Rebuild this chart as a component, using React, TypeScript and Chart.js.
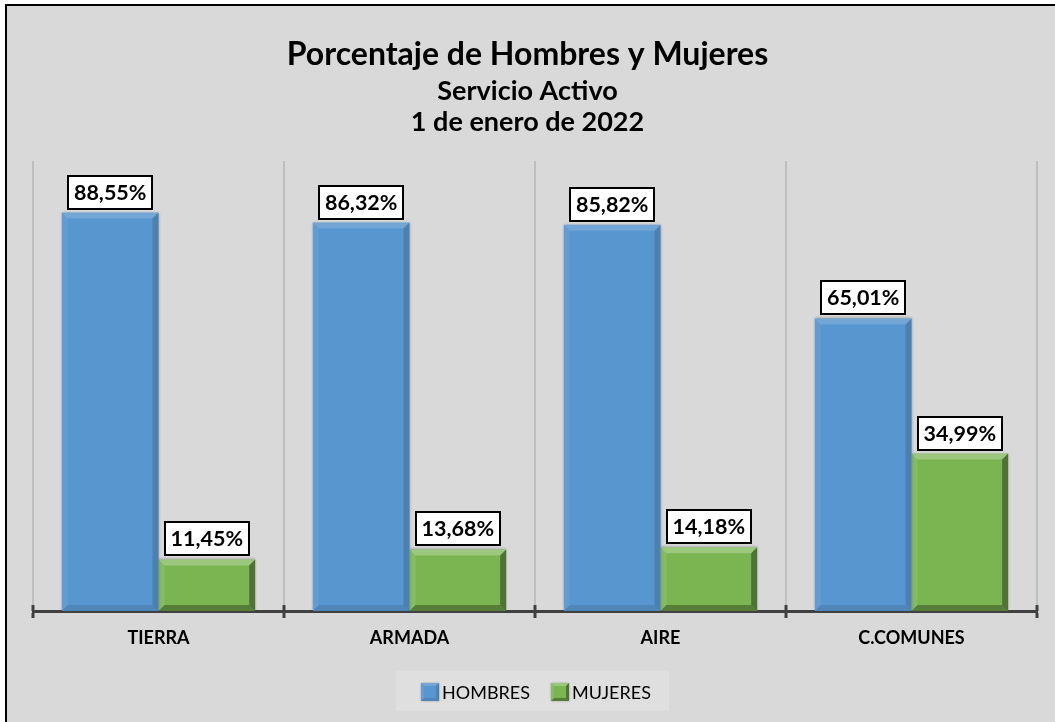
import React, { useEffect, useRef } from "react";
import { Chart, registerables } from "chart.js";

Chart.register(...registerables);

const categories = ["TIERRA", "ARMADA", "AIRE", "C.COMUNES"];
const hombres = [88.55, 86.32, 85.82, 65.01];
const mujeres = [11.45, 13.68, 14.18, 34.99];
const seriesNames = ["HOMBRES", "MUJERES"];
const titleText = "Porcentaje de Hombres y Mujeres";
const subtitleLines = ["Servicio Activo", "1 de enero de 2022"];

const BLUE = "#5896d0";
const GREEN = "#7ab552";
const COLORS = [BLUE, GREEN];
const FONT = "Lato, 'Open Sans', sans-serif";
const W = 1055;
const H = 722;

const fmt = (v: number) => v.toFixed(2).replace(".", ",") + "%";

const backgroundPlugin = {
  id: "bgFrame",
  beforeDraw(chart: any) {
    const ctx = chart.ctx;
    ctx.save();
    ctx.fillStyle = "#ffffff";
    ctx.fillRect(0, 0, chart.width, chart.height);
    ctx.fillStyle = "#d9d9d9";
    ctx.fillRect(6, 5, chart.width - 6, chart.height - 5);
    ctx.fillStyle = "#000000";
    ctx.fillRect(5, 4, 2, chart.height - 4);
    ctx.fillRect(5, 4, chart.width - 5, 2);
    ctx.restore();
  },
};

const titlePlugin = {
  id: "titles",
  afterDraw(chart: any) {
    const ctx = chart.ctx;
    const cx = chart.width / 2;
    ctx.save();
    ctx.fillStyle = "#000";
    ctx.textAlign = "center";
    ctx.textBaseline = "alphabetic";
    ctx.font = `bold 32px ${FONT}`;
    ctx.fillText(titleText, cx, 65);
    ctx.font = `bold 27px ${FONT}`;
    ctx.fillText(subtitleLines[0], cx, 100);
    ctx.fillText(subtitleLines[1], cx, 131);
    ctx.restore();
  },
};

const shadowPlugin = {
  id: "barShadow",
  beforeDatasetDraw(chart: any) {
    const ctx = chart.ctx;
    ctx.save();
    ctx.shadowColor = "rgba(0,0,0,0.35)";
    ctx.shadowBlur = 3;
    ctx.shadowOffsetX = 0;
    ctx.shadowOffsetY = 0;
  },
  afterDatasetDraw(chart: any) {
    chart.ctx.restore();
  },
};

const bevelStrength = [
  { top: 0.16, left: 0.06, right: 0.14, bottom: 0.1 },
  { top: 0.26, left: 0.1, right: 0.36, bottom: 0.3 },
];

function drawBevel(ctx: any, x0: number, y0: number, x1: number, y1: number, b: number, s: any) {
  const poly = (pts: number[][], color: string) => {
    ctx.beginPath();
    ctx.moveTo(pts[0][0], pts[0][1]);
    for (let i = 1; i < pts.length; i++) ctx.lineTo(pts[i][0], pts[i][1]);
    ctx.closePath();
    ctx.fillStyle = color;
    ctx.fill();
  };
  poly([[x0, y0], [x1, y0], [x1 - b, y0 + b], [x0 + b, y0 + b]], `rgba(255,255,255,${s.top})`);
  poly([[x0, y0], [x0 + b, y0 + b], [x0 + b, y1 - b], [x0, y1]], `rgba(255,255,255,${s.left})`);
  poly([[x1, y0], [x1, y1], [x1 - b, y1 - b], [x1 - b, y0 + b]], `rgba(0,0,0,${s.right})`);
  poly([[x0, y1], [x0 + b, y1 - b], [x1 - b, y1 - b], [x1, y1]], `rgba(0,0,0,${s.bottom})`);
}

const bevelLabelPlugin = {
  id: "bevelLabels",
  afterDatasetsDraw(chart: any) {
    const ctx = chart.ctx;
    ctx.save();
    chart.data.datasets.forEach((ds: any, di: number) => {
      const meta = chart.getDatasetMeta(di);
      meta.data.forEach((el: any) => {
        const p = el.getProps(["x", "y", "base", "width"], true);
        const x0 = p.x - p.width / 2;
        const x1 = p.x + p.width / 2;
        drawBevel(ctx, x0, p.y, x1, p.base, 6, bevelStrength[di]);
      });
    });
    ctx.font = `bold 21.5px ${FONT}`;
    ctx.textAlign = "center";
    ctx.textBaseline = "middle";
    chart.data.datasets.forEach((ds: any, di: number) => {
      const meta = chart.getDatasetMeta(di);
      meta.data.forEach((el: any, i: number) => {
        const p = el.getProps(["x", "y"], true);
        const txt = fmt(ds.data[i]);
        const tw = ctx.measureText(txt).width;
        const bw = Math.round(tw + 13);
        const bh = 35;
        const bx = Math.round(p.x - bw / 2);
        const by = Math.round(p.y - 3 - bh);
        ctx.fillStyle = "#ffffff";
        ctx.fillRect(bx, by, bw, bh);
        ctx.strokeStyle = "#000000";
        ctx.lineWidth = 2;
        ctx.strokeRect(bx + 1, by + 1, bw - 2, bh - 2);
        ctx.fillStyle = "#000000";
        ctx.fillText(txt, p.x, by + bh / 2 + 1);
      });
    });
    ctx.restore();
  },
};

const tickCrossPlugin = {
  id: "tickCross",
  afterDraw(chart: any) {
    const ctx = chart.ctx;
    const a = chart.chartArea;
    const n = categories.length;
    ctx.save();
    ctx.strokeStyle = "#404040";
    ctx.lineWidth = 3;
    for (let i = 0; i <= n; i++) {
      const x = a.left + (i * (a.right - a.left)) / n;
      ctx.beginPath();
      ctx.moveTo(x, a.bottom - 6);
      ctx.lineTo(x, a.bottom);
      ctx.stroke();
    }
    ctx.restore();
  },
};

const legendPlugin = {
  id: "customLegend",
  afterDraw(chart: any) {
    const ctx = chart.ctx;
    ctx.save();
    ctx.fillStyle = "#dfdfdf";
    ctx.fillRect(396, 671, 273, 40);
    ctx.font = `18px ${FONT}`;
    ctx.textBaseline = "middle";
    ctx.textAlign = "left";
    const box = 18;
    const gapIn = 3;
    const gapOut = 21;
    const widths = seriesNames.map((s) => box + gapIn + ctx.measureText(s).width);
    const total = widths.reduce((a, b) => a + b, 0) + gapOut * (widths.length - 1);
    let x = 536 - total / 2;
    const cy = 692;
    seriesNames.forEach((name, i) => {
      ctx.save();
      ctx.shadowColor = "rgba(0,0,0,0.3)";
      ctx.shadowBlur = 2;
      ctx.fillStyle = COLORS[i];
      ctx.fillRect(x, cy - box / 2, box, box);
      ctx.restore();
      drawBevel(ctx, x, cy - box / 2, x + box, cy + box / 2, 3, bevelStrength[i]);
      ctx.fillStyle = "#000";
      ctx.fillText(name, x + box + gapIn, cy + 1);
      x += widths[i] + gapOut;
    });
    ctx.restore();
  },
};

export default function App() {
  const ref = useRef<HTMLCanvasElement | null>(null);
  useEffect(() => {
    if (!ref.current) return;
    const chart = new Chart(ref.current, {
      type: "bar",
      data: {
        labels: categories,
        datasets: [
          {
            label: seriesNames[0],
            data: hombres,
            backgroundColor: BLUE,
            borderWidth: 0,
            categoryPercentage: 0.77,
            barPercentage: 1,
          },
          {
            label: seriesNames[1],
            data: mujeres,
            backgroundColor: GREEN,
            borderWidth: 0,
            categoryPercentage: 0.77,
            barPercentage: 1,
          },
        ],
      },
      options: {
        responsive: false,
        animation: false,
        devicePixelRatio: 1,
        layout: { padding: { top: 161, left: 33, right: 18, bottom: 66 } },
        plugins: {
          legend: { display: false },
          title: { display: false },
          tooltip: { enabled: false },
        },
        scales: {
          x: {
            grid: {
              color: "#bfbfbf",
              lineWidth: 2,
              offset: true,
              tickColor: "#404040",
              tickLength: 7,
              tickWidth: 3,
            },
            border: { color: "#404040", width: 3 },
            ticks: {
              color: "#000",
              font: { family: FONT, size: 18, weight: "bold" },
              padding: 9,
            },
            afterFit: (s: any) => {
              s.height = 45;
            },
          },
          y: { display: false, min: 0, max: 100 },
        },
      } as any,
      plugins: [backgroundPlugin, shadowPlugin, bevelLabelPlugin, tickCrossPlugin, titlePlugin, legendPlugin],
    });
    return () => chart.destroy();
  }, []);
  return (
    <div style={{ position: "absolute", left: 0, top: 0, width: W, height: H }}>
      <canvas ref={ref} width={W} height={H} style={{ display: "block", width: W, height: H }} />
    </div>
  );
}
